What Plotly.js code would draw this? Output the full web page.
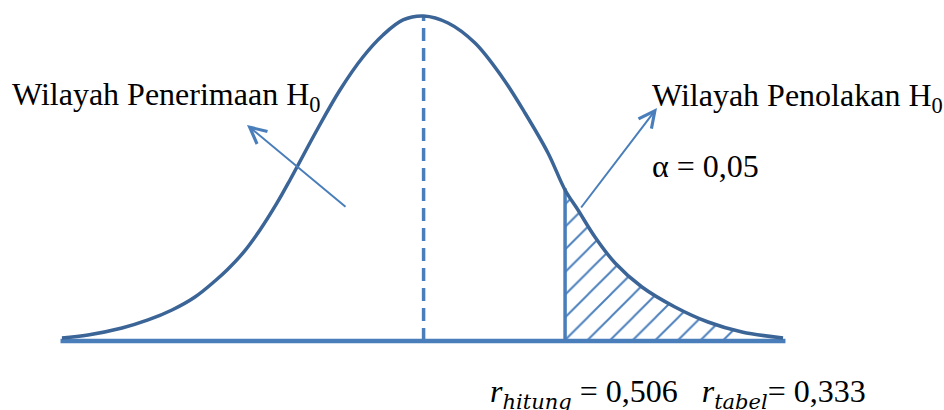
<!DOCTYPE html>
<html><head><meta charset="utf-8">
<script src="https://cdn.plot.ly/plotly-3.0.1.min.js"></script>
<style>html,body{margin:0;padding:0;background:#fff}#chart{width:944px;height:410px}</style>
</head><body><div id="chart"></div>
<script>
// Standard-normal-like curve (z units, density)
const curveZ = [-2.988,-2.773,-2.492,-2.277,-2.079,-1.889,-1.724,-1.624,-1.492,-1.352,-1.211,-1.104,-1.046,-0.881,-0.691,-0.501,-0.335,-0.170,0.000,
                 0.202,0.425,0.648,0.838,1.028,1.169,1.276,1.416,1.582,1.804,2.077,2.350,2.631,2.970];
const curveDensity = [0.0037,0.0074,0.0160,0.0259,0.0382,0.0542,0.0739,0.0874,0.1084,0.1367,0.1700,0.1983,0.2143,0.2599,0.3092,0.3498,0.3769,0.3954,0.4003,
                      0.3917,0.3670,0.3252,0.2808,0.2316,0.1860,0.1613,0.1281,0.0961,0.0665,0.0419,0.0234,0.0111,0.0037];
const criticalZ = 1.169;
const criticalTop = 0.188;
const hatchEndZ = 2.631;
const meanZ = 0.0;
const peakDensity = 0.4003;
const baseRange = [-3.0, 2.99];

const subStyle = 'font-family:DejaVu Serif;font-size:21px';
const labelAccept = 'Wilayah Penerimaan H<sub>0</sub>';
const labelReject = 'Wilayah Penolakan H<sub>0</sub>';
const labelAlpha = '\u03b1 = 0,05';
const labelR = '<i>r</i><sub><span style="' + subStyle + '"><i>hitung</i></span></sub> = 0,506&nbsp;&nbsp;&nbsp;<i>r</i><sub><span style="' + subStyle + '"><i>tabel</i></span></sub>= 0,333';

const lineBlue = '#4a7ebb';
const curveBlue = '#3b6497';

const tailX = [], tailY = [];
curveZ.forEach((z,i)=>{ if (z >= criticalZ && z <= hatchEndZ) { tailX.push(z); tailY.push(curveDensity[i]); } });

const traces = [
  {x: tailX, y: tailY, type:'scatter', mode:'lines', line:{width:0, shape:'spline'}, fill:'tozeroy',
   fillcolor:'rgba(0,0,0,0)',
   fillpattern:{shape:'/', size:16, solidity:0.12, fgcolor:lineBlue, bgcolor:'rgba(255,255,255,0)'}, hoverinfo:'skip'},
  {x: baseRange, y:[0,0], type:'scatter', mode:'lines', line:{color:lineBlue, width:4.5}},
  {x:[criticalZ, criticalZ], y:[0, criticalTop], type:'scatter', mode:'lines', line:{color:lineBlue, width:3.5}},
  {x:[meanZ, meanZ], y:[0, peakDensity], type:'scatter', mode:'lines', line:{color:lineBlue, width:3.5, dash:'13px,7px'}},
  {x: curveZ, y: curveDensity, type:'scatter', mode:'lines', line:{color:curveBlue, width:3.5, shape:'spline', smoothing:1}}
];

const serif = 'Liberation Serif';
const W = 944, H = 410;
function px(x){return x/W;} function py(y){return 1 - y/H;}
function f(){ return {family:serif, size:32, color:'#000000'}; }

const layout = {
  width:W, height:H, margin:{l:0,r:0,t:0,b:0}, showlegend:false,
  font:{family:serif, size:32, color:'#000000'},
  paper_bgcolor:'#fff', plot_bgcolor:'#fff',
  xaxis:{range:[-3.5,4.3], visible:false, fixedrange:true},
  yaxis:{range:[-0.085,0.42], visible:false, fixedrange:true},
  annotations:[
    {xref:'paper', yref:'paper', x:px(10), y:py(119), xanchor:'left', yanchor:'bottom', text:labelAccept, showarrow:false, font:f()},
    {xref:'paper', yref:'paper', x:px(650), y:py(120), xanchor:'left', yanchor:'bottom', text:labelReject, showarrow:false, font:f()},
    {xref:'paper', yref:'paper', x:px(650), y:py(186), xanchor:'left', yanchor:'bottom', text:labelAlpha, showarrow:false, font:f()},
    {xref:'paper', yref:'paper', x:px(488), y:py(416), xanchor:'left', yanchor:'bottom', text:labelR, showarrow:false, font:f()},
    {xref:'paper', yref:'paper', x:px(247), y:py(125), ax:100, ay:83, text:'', showarrow:true, arrowhead:5, arrowsize:1.6, arrowwidth:2, arrowcolor:lineBlue, standoff:0, startstandoff:0},
    {xref:'paper', yref:'paper', x:px(657), y:py(108), ax:-77, ay:101, text:'', showarrow:true, arrowhead:5, arrowsize:1.6, arrowwidth:2, arrowcolor:lineBlue, standoff:0, startstandoff:0}
  ]
};
Plotly.newPlot('chart', traces, layout, {staticPlot:true, displayModeBar:false});
</script></body></html>
